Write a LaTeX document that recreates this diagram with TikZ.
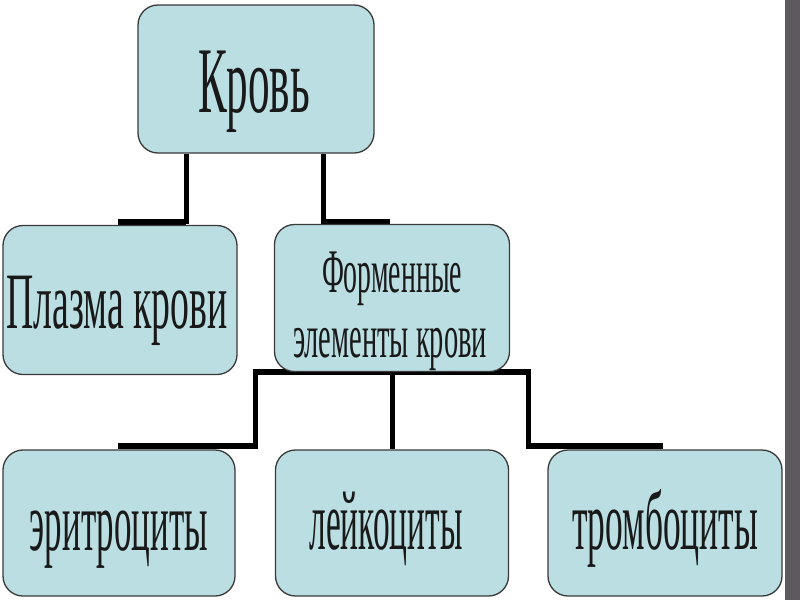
\documentclass[tikz,border=0pt]{standalone}
\usepackage{fontspec}
\usepackage{graphicx}
\setmainfont{Liberation Serif}
\usetikzlibrary{backgrounds}
\definecolor{boxfill}{HTML}{BADEE2}
\definecolor{boxline}{HTML}{3A3A3A}
\definecolor{barcol}{HTML}{5E595E}
\newcommand\fittext[3]{\resizebox{#1}{\height}{\fontsize{#2}{#2}\selectfont #3}}
\tikzset{
  box/.style={draw=boxline, line width=1.3pt, fill=boxfill, rounded corners=20pt, inner sep=0pt},
  lbl/.style={anchor=base, inner sep=0pt, text=black!90},
  conn/.style={draw=black, line width=5pt},
  hconn/.style={draw=black, line width=6.5pt}
}
\begin{document}
\begin{tikzpicture}[x=1pt,y=-1pt]
\useasboundingbox (0,0) rectangle (800,600);
% boxes
\node[box, minimum width=236pt, minimum height=148pt] (krov) at (256,79) {};
\node[box, minimum width=234pt, minimum height=149pt] (plaz) at (120,300) {};
\node[box, minimum width=235pt, minimum height=147pt] (form) at (392,298) {};
\node[box, minimum width=232pt, minimum height=146pt] (erit) at (119,523) {};
\node[box, minimum width=233pt, minimum height=146pt] (leik) at (392,523) {};
\node[box, minimum width=234pt, minimum height=146pt] (tromb) at (665,523) {};
% labels
\node[lbl] (tkrov) at (254,112) {\fittext{112pt}{94}{Кровь}};
\node[lbl] (tplaz) at (117,328) {\fittext{221pt}{80}{Плазма крови}};
\node[lbl] (tform1) at (392,292) {\fittext{140pt}{62}{Форменные}};
\node[lbl] (tform2) at (390,357) {\fittext{194pt}{62}{элементы крови}};
\node[lbl] (terit) at (119,550) {\fittext{178pt}{84}{эритроциты}};
\node[lbl] (tleik) at (386,549) {\fittext{153pt}{84}{лейкоциты}};
\node[lbl] (ttromb) at (665,549) {\fittext{186pt}{84}{тромбоциты}};
% junction coordinates
\coordinate (ja) at (186,222);
\coordinate (jae) at (118,222);
\coordinate (jb) at (323,222);
\coordinate (jbe) at (390,222);
\coordinate (fl) at (255,372);
\coordinate (fr) at (528,372);
\coordinate (fld) at (255,446);
\coordinate (fle) at (118,446);
\coordinate (frd) at (528,446);
\coordinate (fre) at (663,446);
\begin{scope}[on background layer]
  \fill[white] (0,0) rectangle (800,600);
  \fill[barcol] (785,0) rectangle (800,600);
  \draw[conn] (krov.south -| ja) -- ([yshift=-2pt]ja);
  \draw[hconn] (ja) -- (jae);
  \draw[conn] (krov.south -| jb) -- ([yshift=-2pt]jb);
  \draw[hconn] (jb) -- (jbe);
  \draw[hconn] ([xshift=-2.5pt]fl) -- ([xshift=2.5pt]fr);
  \draw[conn] (fl) -- ([yshift=-2pt]fld);
  \draw[hconn] ([xshift=2.5pt]fld) -- (fle);
  \draw[conn] (form.south) -- (form.south |- leik.north);
  \draw[conn] (fr) -- ([yshift=-2pt]frd);
  \draw[hconn] ([xshift=-2.5pt]frd) -- (fre);
\end{scope}
\end{tikzpicture}
\end{document}
